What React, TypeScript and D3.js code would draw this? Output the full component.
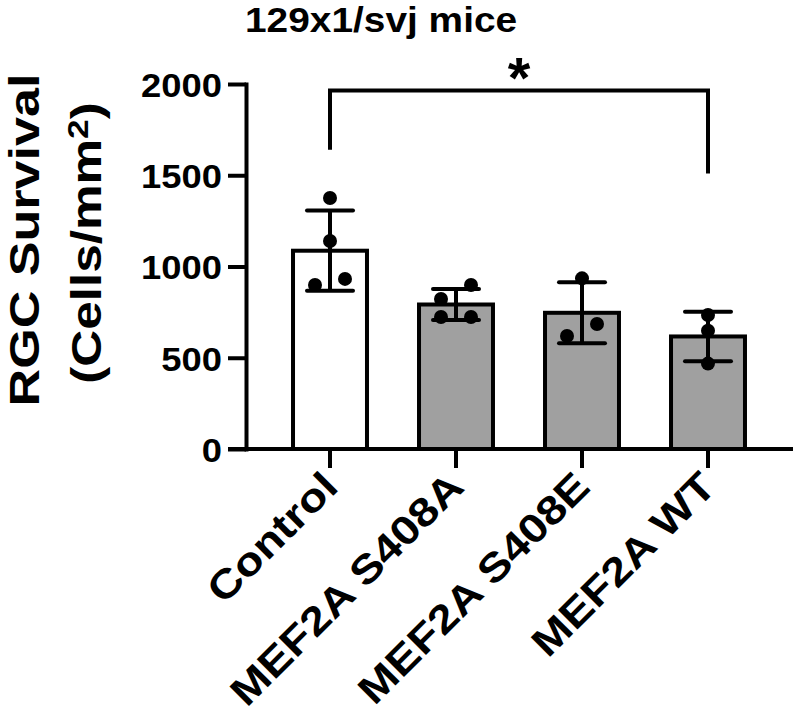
import { useEffect, useRef } from 'react'
import * as d3 from 'd3'

// RGC survival per retina (cells/mm2), one value per animal
const groups = ['Control', 'MEF2A S408A', 'MEF2A S408E', 'MEF2A WT']
const controlCells = [1375, 1140, 932, 899]
const s408aCells = [899, 822, 723, 723]
const s408eCells = [935, 685, 619]
const wtCells = [734, 648, 468]
const barFills = ['#ffffff', '#a0a0a0', '#a0a0a0', '#a0a0a0']
const yTicks = [0, 500, 1000, 1500, 2000]

// significance bracket: Control vs MEF2A WT
const bracketPair = ['Control', 'MEF2A WT']
const bracketTop = 1965
const bracketLegEnds = [1640, 1510]
const bracketLabel = '*'

const FONT = '"Liberation Sans", Arial, Helvetica, sans-serif'

export default function App() {
  const svgRef = useRef<SVGSVGElement>(null)

  useEffect(() => {
    if (!svgRef.current) return
    const svg = d3.select(svgRef.current)
    svg.selectAll('*').remove()

    const samples = [controlCells, s408aCells, s408eCells, wtCells]
    const stats = groups.map((g, i) => ({
      group: g,
      values: samples[i],
      mean: d3.mean(samples[i]) as number,
      sd: d3.deviation(samples[i]) as number,
      fill: barFills[i]
    }))

    const y = d3.scaleLinear().domain([0, 2000]).range([449, 84])
    const x = d3.scaleBand<string>()
      .domain(groups)
      .range([267, 771])
      .paddingInner(0.413)
      .paddingOuter(0.2065)
    const cx = (g: string) => x(g)! + x.bandwidth() / 2

    const axisW = 4
    const tickLen = 18
    const g = svg.append('g').style('font-family', FONT).style('font-weight', 'bold')

    // bars
    g.selectAll('.bar')
      .data(stats)
      .enter().append('rect')
      .attr('class', 'bar')
      .attr('x', d => x(d.group)!)
      .attr('width', x.bandwidth())
      .attr('y', d => y(d.mean))
      .attr('height', d => y(0) - y(d.mean))
      .attr('fill', d => d.fill)
      .attr('stroke', '#000')
      .attr('stroke-width', 4)

    // error bars (mean ± SD)
    const capHalf = 23
    const eb = g.selectAll('.err').data(stats).enter().append('g').attr('class', 'err')
    eb.append('line')
      .attr('x1', d => cx(d.group)).attr('x2', d => cx(d.group))
      .attr('y1', d => y(d.mean + d.sd)).attr('y2', d => y(d.mean - d.sd))
      .attr('stroke', '#000').attr('stroke-width', 4)
    eb.selectAll('.cap')
      .data(d => [d.mean + d.sd, d.mean - d.sd].map(v => ({ v, c: cx(d.group) })))
      .enter().append('line')
      .attr('x1', d => d.c - capHalf).attr('x2', d => d.c + capHalf)
      .attr('y1', d => y(d.v)).attr('y2', d => y(d.v))
      .attr('stroke', '#000').attr('stroke-width', 4).attr('stroke-linecap', 'round')

    // individual points, spread sideways when they would overlap (higher value to the right)
    const r = 7
    const pts: { px: number; py: number }[] = []
    stats.forEach(s => {
      const sorted = [...s.values].sort((a, b) => b - a)
      const clusters: number[][] = []
      sorted.forEach(v => {
        const last = clusters[clusters.length - 1]
        if (last && y(v) - y(last[last.length - 1]) < 2 * r + 0.5) last.push(v)
        else clusters.push([v])
      })
      clusters.forEach(cl => {
        const n = cl.length
        cl.forEach((v, k) => {
          const off = n === 1 ? 0 : ((n - 1) / 2 - k) * (2 * r + 1) * (2 / Math.max(1, n - 1))
          pts.push({ px: cx(s.group) + off, py: y(v) })
        })
      })
    })
    g.selectAll('.dot')
      .data(pts)
      .enter().append('circle')
      .attr('class', 'dot')
      .attr('cx', d => d.px)
      .attr('cy', d => d.py)
      .attr('r', r)
      .attr('fill', '#000')

    // y axis
    const tickStretch = 1.07
    const yAxis = g.append('g')
      .attr('transform', 'translate(246,0)')
      .call(d3.axisLeft(y).tickValues(yTicks).tickSize(tickLen).tickSizeOuter(0).tickPadding(6).tickFormat(d3.format('d')))
    yAxis.select('.domain').attr('stroke-width', axisW).attr('stroke-linecap', 'square')
    yAxis.selectAll('.tick line').attr('stroke-width', axisW)
    yAxis.selectAll('.tick text')
      .attr('x', -(tickLen + 6) / tickStretch)
      .attr('dy', '0.36em')
      .attr('transform', `scale(${tickStretch},1)`)
      .style('font-size', '34px')
      .style('font-family', FONT)
      .style('font-weight', 'bold')
      .attr('fill', '#000')

    // x axis
    const xAxis = g.append('g')
      .attr('transform', `translate(0,${y(0)})`)
      .call(d3.axisBottom(x).tickSize(tickLen + 1).tickSizeOuter(0).tickFormat(() => ''))
    xAxis.select('.domain')
      .attr('d', `M${246 - tickLen},0H${x.range()[1] + 22}`)
      .attr('stroke-width', axisW)
    xAxis.selectAll('.tick line').attr('stroke-width', axisW)

    const labStretch = 1.16
    g.selectAll('.xlab')
      .data(groups)
      .enter().append('text')
      .attr('class', 'xlab')
      .attr('transform', d => `translate(${cx(d) + 10},${y(0) + 40}) rotate(-45) scale(${labStretch},1)`)
      .attr('text-anchor', 'end')
      .style('font-size', '40px')
      .attr('fill', '#000')
      .text(d => d)

    // y axis title
    g.append('text')
      .attr('transform', `translate(39,240) rotate(-90) scale(1.24,1)`)
      .attr('text-anchor', 'middle')
      .style('font-size', '42px')
      .attr('fill', '#000')
      .text('RGC Survival')
    const yt2 = g.append('text')
      .attr('transform', `translate(101,243) rotate(-90) scale(1.22,1)`)
      .attr('text-anchor', 'middle')
      .style('font-size', '42px')
    yt2.append('tspan').text('(Cells/mm')
    yt2.append('tspan').attr('dy', '-0.45em').style('font-size', '29px').text('2')
    yt2.append('tspan').attr('dy', '0.3em').text(')')

    // chart title
    g.append('text')
      .attr('transform', 'translate(245,32) scale(1.11,1)')
      .style('font-size', '35px')
      .text('129x1/svj mice')

    // significance bracket
    const bx1 = cx(bracketPair[0])
    const bx2 = cx(bracketPair[1])
    g.append('path')
      .attr('d', `M${bx1},${y(bracketLegEnds[0])}V${y(bracketTop)}H${bx2}V${y(bracketLegEnds[1])}`)
      .attr('fill', 'none')
      .attr('stroke', '#000')
      .attr('stroke-width', 4)
    g.append('text')
      .attr('x', (bx1 + bx2) / 2)
      .attr('y', y(bracketTop) + 8)
      .attr('text-anchor', 'middle')
      .style('font-size', '58px')
      .text(bracketLabel)
  }, [])

  return (
    <svg
      ref={svgRef}
      width={800}
      height={715}
      style={{ position: 'absolute', left: 0, top: 0, background: '#fff' }}
    />
  )
}
